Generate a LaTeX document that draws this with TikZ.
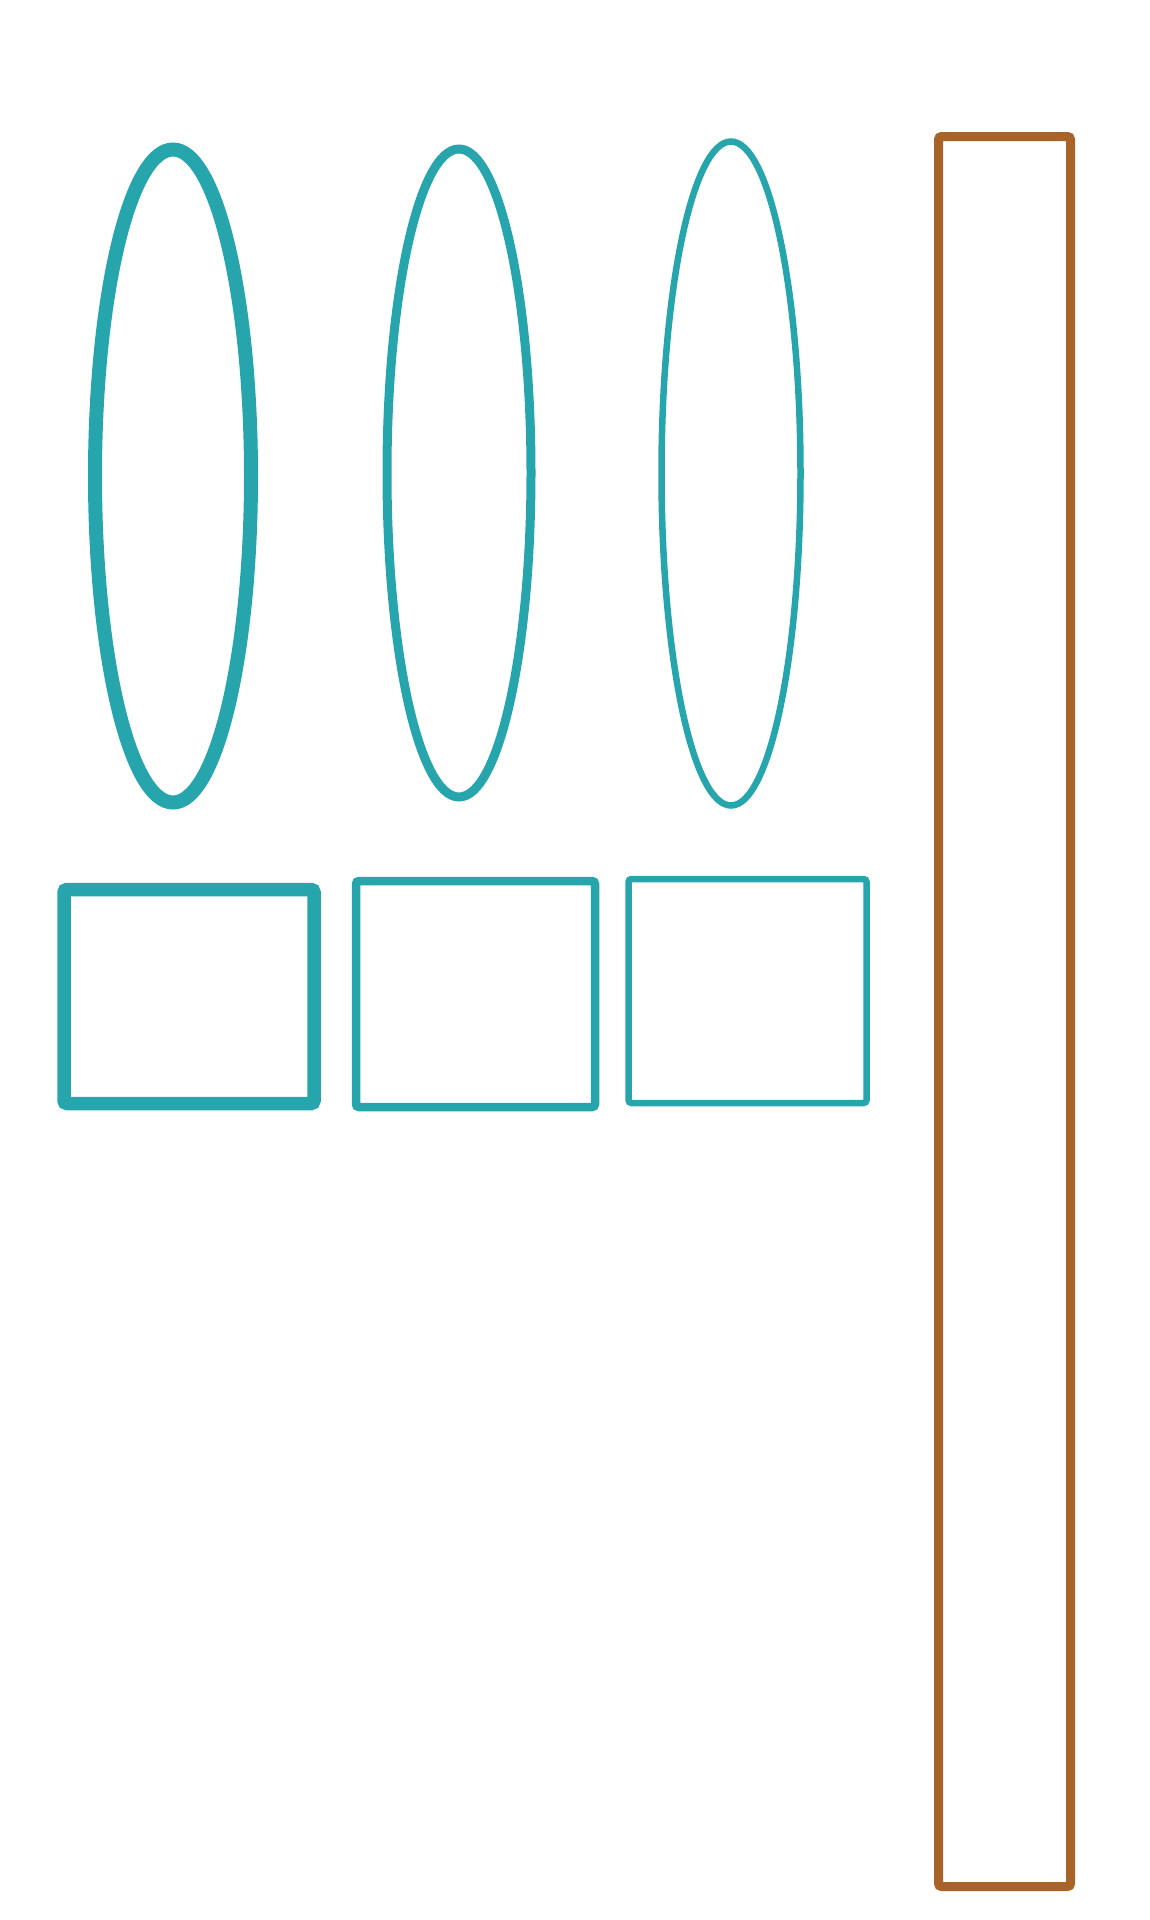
\documentclass[tikz,border=0pt]{standalone}
\usetikzlibrary{shapes.geometric,positioning}
\definecolor{tealline}{RGB}{38,165,172}
\definecolor{brownline}{RGB}{168,100,40}
\tikzset{
    oval/.style={
        ellipse,
        draw=tealline,
        inner sep=0pt
    },
    slot/.style={
        rectangle,
        rounded corners=3pt,
        draw=tealline,
        inner sep=0pt
    },
    bar/.style={
        rectangle,
        rounded corners=3pt,
        draw=brownline,
        line width=9pt,
        inner sep=0pt
    }
}

\begin{document}
\begin{tikzpicture}[x=1pt,y=-1pt]
                            \useasboundingbox (0,0) rectangle (1150,1920);
                            \node[oval,line width=14pt,minimum width=156pt,minimum height=653pt] (E1) at (173,476) {};
                            \node[oval,line width=9pt,minimum width=144pt,minimum height=648pt] (E2) at (459,473) {};
                            \node[oval,line width=6.5pt,minimum width=139pt,minimum height=664pt] (E3) at (731,473.5) {};
                            \node[slot,line width=13.5pt,minimum width=250pt,minimum height=214pt] (R1) at (189,996.5) {};
                            \node[slot,line width=8.5pt,minimum width=239pt,minimum height=226pt] (R2) at (475.5,994) {};
                            \node[slot,line width=6.5pt,minimum width=238pt,minimum height=224pt] (R3) at (747.5,991) {};
                            \node[bar,minimum width=132pt,minimum height=1750pt] (B) at (1004.5,1011.5) {};
                        \end{tikzpicture}
\end{document}
